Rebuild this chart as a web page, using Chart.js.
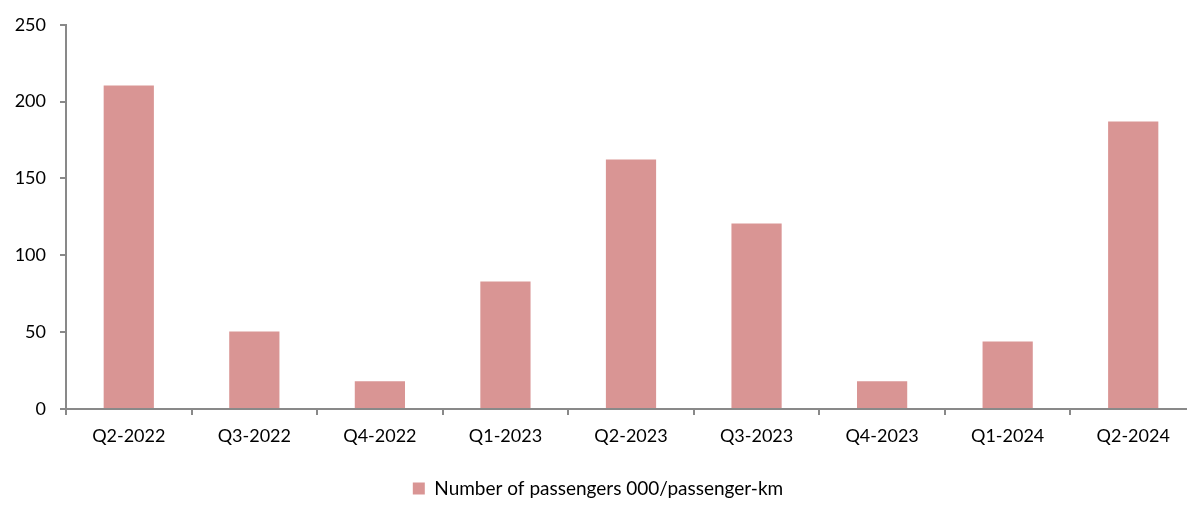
<!DOCTYPE html>
<html>
<head>
<meta charset="utf-8">
<script src="https://cdn.jsdelivr.net/npm/chart.js@4.4.1/dist/chart.umd.min.js"></script>
<style>
  html, body { margin: 0; padding: 0; background: #fff; overflow: hidden; }
  /* the original plot runs slightly past the right edge, so the canvas is wider than the view */
  #wrap { width: 1187px; height: 508px; overflow: hidden; }
</style>
</head>
<body>
<div id="wrap"><canvas id="chart" width="1196" height="508"></canvas></div>
<script>
const quarters = ['Q2-2022', 'Q3-2022', 'Q4-2022', 'Q1-2023', 'Q2-2023', 'Q3-2023', 'Q4-2023', 'Q1-2024', 'Q2-2024'];
const passengers = [210.5, 50.5, 18, 83, 162.4, 120.7, 18, 44, 187.1];
const yTicks = [0, 50, 100, 150, 200, 250];

const axisGrey = '#898989';
const barColor = '#D99594';

Chart.defaults.font.family = 'Lato, "Open Sans", sans-serif';
Chart.defaults.font.size = 18;
Chart.defaults.color = '#000';

const config = {
    type: 'bar',
    data: {
        labels: quarters,
        datasets: [{
            label: 'Number of passengers 000/passenger-km',
            data: passengers,
            backgroundColor: barColor,
            borderWidth: 0,
            categoryPercentage: 1,
            barPercentage: 0.4,
        }]
    },
    options: {
        responsive: false,
        animation: false,
        layout: {
            padding: { top: 22, right: 0, bottom: 0, left: 0 }
        },
        scales: {
            x: {
                grid: {
                    offset: true,
                    drawOnChartArea: false,
                    drawTicks: true,
                    tickLength: 6,
                    color: axisGrey,
                    lineWidth: 2,
                },
                border: { color: axisGrey, width: 2 },
                ticks: { padding: 10, maxRotation: 0, autoSkip: false },
                afterFit: (scale) => { scale.height = 60; },
            },
            y: {
                min: 0,
                max: 250,
                afterBuildTicks: (scale) => { scale.ticks = yTicks.map(v => ({ value: v })); },
                grid: {
                    drawOnChartArea: false,
                    drawTicks: true,
                    tickLength: 6,
                    color: axisGrey,
                    lineWidth: 2,
                },
                border: { color: axisGrey, width: 2 },
                ticks: { padding: 14 },
                afterFit: (scale) => { scale.width = 66; },
            }
        },
        plugins: {
            legend: {
                position: 'bottom',
                labels: {
                    boxWidth: 12,
                    boxHeight: 12,
                    padding: 10,
                    font: { size: 19 },
                }
            },
            tooltip: { enabled: false },
        }
    }
};

new Chart(document.getElementById('chart'), config);
</script>
</body>
</html>
